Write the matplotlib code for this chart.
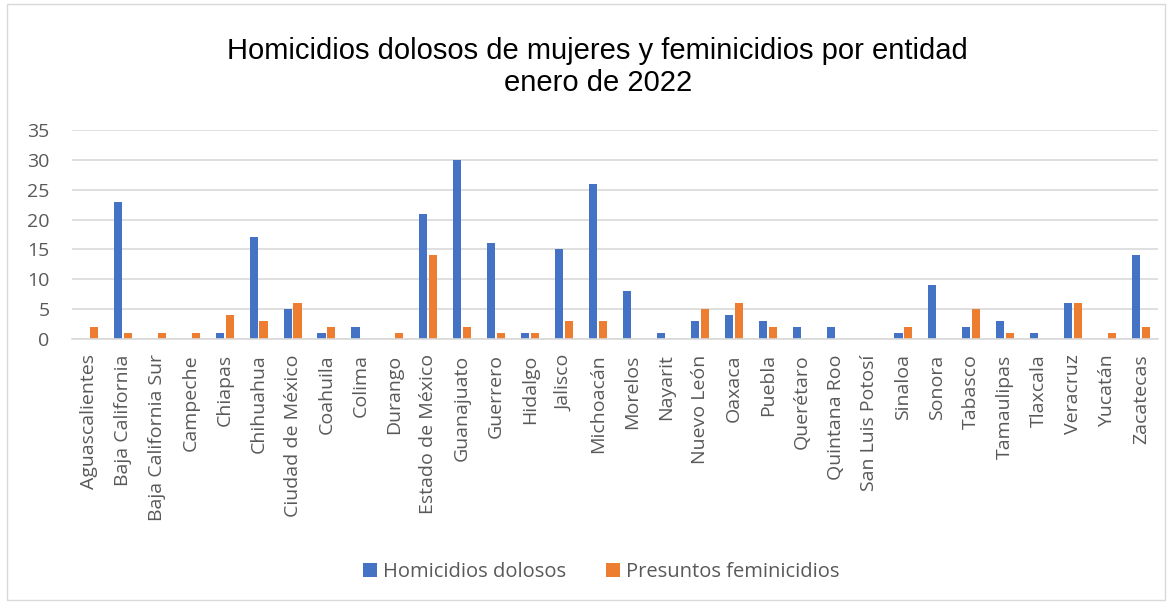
import matplotlib
matplotlib.use('Agg')
from matplotlib import pyplot as plt
from matplotlib.patches import Rectangle
import numpy as np

entidades = ['Aguascalientes', 'Baja California', 'Baja California Sur', 'Campeche', 'Chiapas',
             'Chihuahua', 'Ciudad de México', 'Coahuila', 'Colima', 'Durango', 'Estado de México',
             'Guanajuato', 'Guerrero', 'Hidalgo', 'Jalisco', 'Michoacán', 'Morelos', 'Nayarit',
             'Nuevo León', 'Oaxaca', 'Puebla', 'Querétaro', 'Quintana Roo', 'San Luis Potosí',
             'Sinaloa', 'Sonora', 'Tabasco', 'Tamaulipas', 'Tlaxcala', 'Veracruz', 'Yucatán',
             'Zacatecas']
homicidios = [0, 23, 0, 0, 1, 17, 5, 1, 2, 0, 21, 30, 16, 1, 15, 26, 8, 1, 3, 4, 3, 2, 2, 0,
              1, 9, 2, 3, 1, 6, 0, 14]
feminicidios = [2, 1, 1, 1, 4, 3, 6, 2, 0, 1, 14, 2, 1, 1, 3, 3, 0, 0, 5, 6, 2, 0, 0, 0,
                2, 0, 5, 1, 0, 6, 1, 2]

gris = '#595959'
fig = plt.figure(figsize=(11.72, 6.04), dpi=100)
fig.patches.append(Rectangle((0.006, 0.006), 0.988, 0.988, transform=fig.transFigure,
                             fill=False, edgecolor='#D9D9D9', linewidth=1))
ax = fig.add_axes([0.0614, 0.4387, 0.9266, 0.3461])

x = np.arange(len(entidades))
w = 0.24
ax.bar(x - 0.145, homicidios, w, color='#4472C4', label='Homicidios dolosos')
ax.bar(x + 0.145, feminicidios, w, color='#ED7D31', label='Presuntos feminicidios')

ax.set_xlim(-0.5, len(entidades) - 0.5)
ax.set_ylim(0, 35)
ax.set_yticks(range(0, 36, 5))
ax.set_xticks(x)
ax.set_xticklabels(entidades, rotation=90, fontsize=14, color=gris, family='Open Sans')
for lbl in ax.get_yticklabels():
    lbl.set_family('Open Sans')
    lbl.set_fontsize(14)
    lbl.set_color(gris)
ax.tick_params(axis='x', length=0, pad=11)
ax.tick_params(axis='y', length=0, pad=16)
ax.grid(axis='y', color='#D9D9D9', linewidth=1.2)
ax.set_axisbelow(True)
for s in ['top', 'right', 'left']:
    ax.spines[s].set_visible(False)
ax.spines['bottom'].set_color('#D9D9D9')
ax.spines['bottom'].set_linewidth(1.2)

fig.text(0.51, 0.889, 'Homicidios dolosos de mujeres y feminicidios por entidad\nenero de 2022',
         ha='center', va='center', fontsize=21, family='Liberation Sans', linespacing=1.2)
fig.legend(loc='center', bbox_to_anchor=(0.513, 0.053), ncol=2, frameon=False,
           prop={'family': 'Open Sans', 'size': 14.5}, handlelength=0.7, handleheight=0.7,
           columnspacing=2.0, handletextpad=0.3, labelcolor=gris)

plt.savefig('out.png')
